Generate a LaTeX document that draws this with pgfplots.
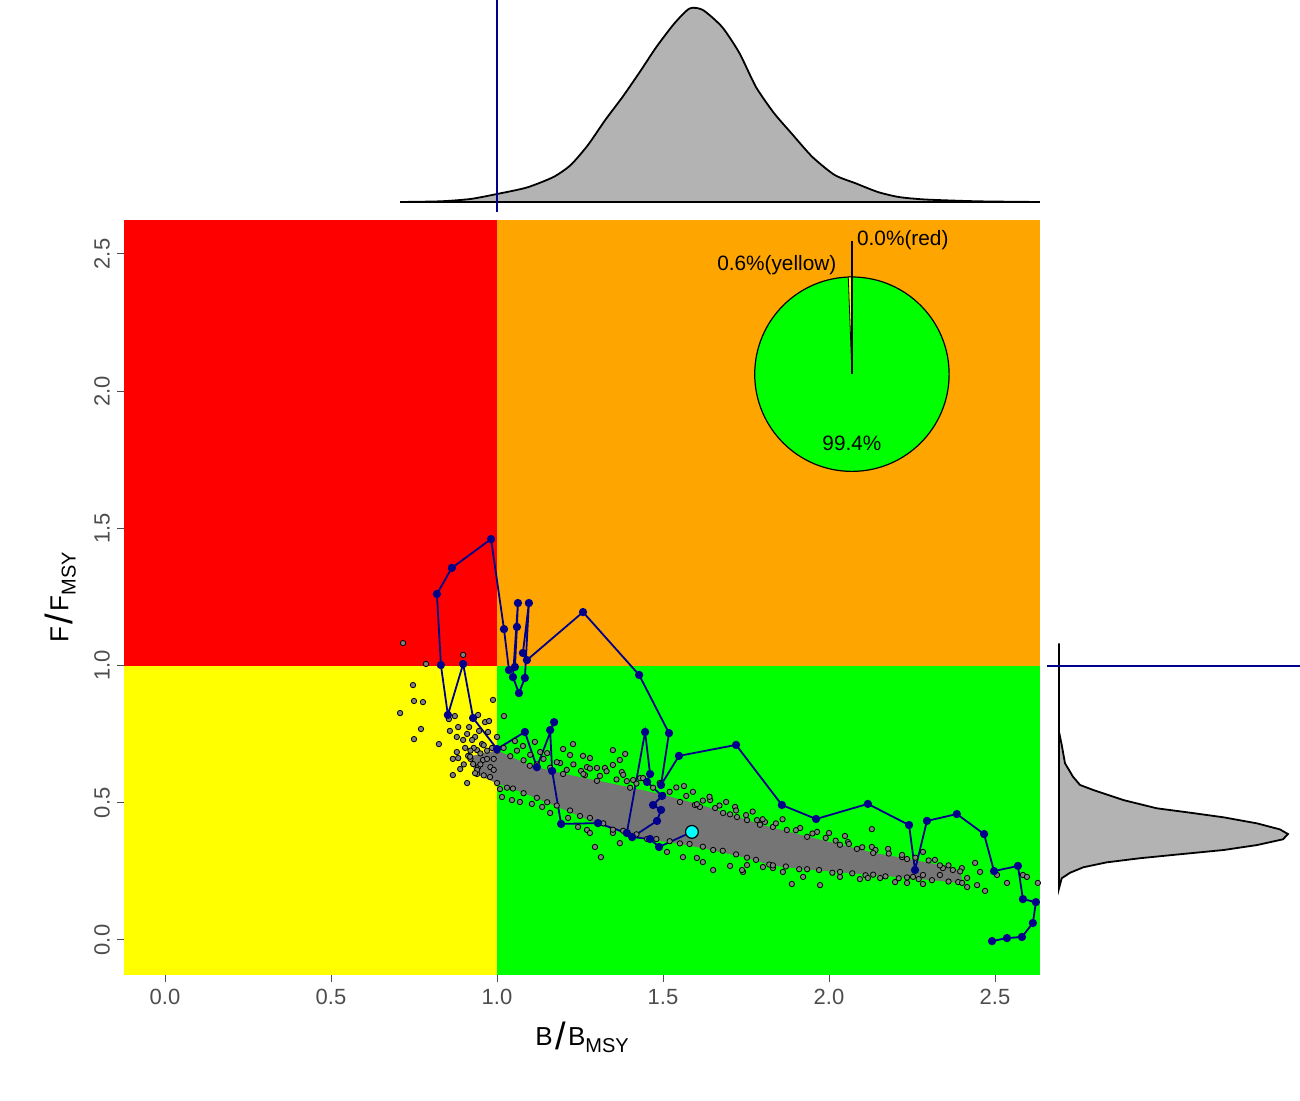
\documentclass[border=0pt]{standalone}
\usepackage{pgfplots}
\pgfplotsset{compat=1.18}
\usepackage{fontspec}
\setmainfont{Liberation Sans}
\definecolor{kred}{RGB}{255,0,0}
\definecolor{korange}{RGB}{255,165,0}
\definecolor{kyellow}{RGB}{255,255,0}
\definecolor{kgreen}{RGB}{0,255,0}
\definecolor{dens}{RGB}{179,179,179}
\definecolor{traj}{RGB}{0,0,139}
\definecolor{kcyan}{RGB}{0,255,255}
\definecolor{coregray}{RGB}{117,117,117}
\definecolor{ptgray}{RGB}{128,128,128}
\definecolor{tickgray}{RGB}{77,77,77}
\newcommand{\msylab}[1]{{\fontsize{13}{15}\selectfont #1\kern1.2pt\raisebox{-2.2pt}{\fontsize{19}{19}\selectfont/}\kern1.2pt#1}\raisebox{-3.6pt}{\fontsize{10}{12}\selectfont MSY}}

\pgfplotstableread{
B F
0.717 1.082
0.898 1.039
0.786 1.006
0.747 0.929
0.750 0.871
0.777 0.867
0.708 0.827
0.988 0.875
0.943 0.820
0.873 0.816
0.855 0.805
0.771 0.769
0.750 0.732
0.825 0.714
0.858 0.762
0.883 0.776
0.916 0.776
0.964 0.794
0.976 0.798
0.946 0.762
0.973 0.758
0.879 0.740
0.910 0.751
0.934 0.740
0.898 0.729
0.925 0.729
0.955 0.714
0.879 0.685
0.904 0.700
0.940 0.692
0.867 0.660
0.883 0.663
0.913 0.671
0.928 0.641
0.958 0.656
0.889 0.623
0.943 0.630
0.867 0.601
0.940 0.605
0.910 0.572
0.979 0.594
0.930 0.700
0.950 0.680
0.960 0.710
0.920 0.690
0.970 0.660
0.950 0.640
0.980 0.630
0.960 0.600
0.990 0.620
0.920 0.660
0.900 0.640
0.940 0.620
0.970 0.690
0.990 0.660
0.985 0.700
1.000 0.740
1.021 0.816
1.054 0.725
1.078 0.707
1.114 0.722
1.130 0.685
1.151 0.681
1.199 0.696
1.229 0.714
1.259 0.671
1.271 0.630
1.301 0.627
1.220 0.674
1.190 0.645
1.280 0.663
1.349 0.692
1.386 0.678
1.370 0.656
1.376 0.612
1.349 0.638
1.325 0.627
1.253 0.616
1.265 0.601
1.391 0.579
1.410 0.583
1.431 0.590
1.563 0.561
1.551 0.503
1.596 0.492
1.611 0.485
1.642 0.510
1.657 0.481
1.681 0.463
1.717 0.485
1.723 0.448
1.753 0.437
1.783 0.437
1.807 0.430
1.831 0.412
1.873 0.401
1.913 0.408
1.964 0.394
2.000 0.390
2.048 0.379
2.057 0.357
2.129 0.404
2.129 0.339
2.084 0.332
2.178 0.332
2.220 0.302
2.283 0.321
2.319 0.292
2.343 0.262
2.373 0.255
2.440 0.281
2.455 0.248
2.506 0.237
2.584 0.237
2.596 0.230
2.629 0.208
1.020 0.700
1.040 0.670
1.060 0.690
1.080 0.655
1.100 0.675
1.120 0.640
1.140 0.660
1.160 0.628
1.180 0.648
1.210 0.620
1.230 0.640
1.260 0.605
1.280 0.625
1.310 0.598
1.330 0.615
1.360 0.585
1.380 0.602
1.420 0.570
1.440 0.590
1.470 0.555
1.490 0.572
1.520 0.540
1.540 0.556
1.570 0.525
1.590 0.540
1.620 0.508
1.640 0.522
1.670 0.490
1.690 0.503
1.720 0.472
1.750 0.455
1.770 0.468
1.800 0.440
1.840 0.425
1.860 0.440
1.900 0.400
1.950 0.388
1.990 0.372
2.020 0.362
2.060 0.350
2.100 0.338
2.140 0.328
2.180 0.315
2.220 0.310
2.260 0.300
2.300 0.290
2.360 0.272
2.400 0.262
1.030 0.555
1.080 0.535
1.120 0.518
1.180 0.490
1.220 0.472
1.280 0.445
1.320 0.425
1.380 0.398
1.420 0.385
1.480 0.368
1.520 0.360
1.580 0.350
1.620 0.340
1.680 0.325
1.720 0.312
1.780 0.292
1.820 0.275
1.870 0.268
1.910 0.258
1.970 0.255
2.010 0.245
2.070 0.243
2.110 0.236
2.170 0.232
2.210 0.225
2.270 0.222
2.310 0.218
2.360 0.213
1.009 0.550
1.015 0.521
1.045 0.510
1.069 0.503
1.105 0.496
1.136 0.485
1.160 0.463
1.214 0.445
1.244 0.412
1.271 0.401
1.280 0.390
1.349 0.390
1.370 0.353
1.295 0.339
1.313 0.302
1.512 0.321
1.560 0.302
1.602 0.299
1.620 0.284
1.651 0.255
1.702 0.270
1.741 0.248
1.753 0.273
1.801 0.266
1.831 0.262
1.738 0.255
1.861 0.248
1.888 0.204
1.922 0.230
1.973 0.200
2.033 0.230
2.093 0.222
2.117 0.226
2.154 0.226
2.199 0.211
2.235 0.208
2.253 0.230
2.283 0.237
2.283 0.204
2.334 0.237
2.389 0.211
2.416 0.226
2.446 0.200
2.416 0.193
2.470 0.179
2.536 0.208
}\cloudpts

\pgfplotstableread{
B F
0.919 0.668
1.000 0.690
1.099 0.635
1.199 0.605
1.301 0.580
1.401 0.555
1.500 0.528
1.602 0.495
1.702 0.458
1.792 0.420
1.934 0.376
2.033 0.347
2.133 0.317
2.235 0.295
2.334 0.272
2.395 0.250
2.401 0.208
2.235 0.228
2.133 0.238
2.033 0.248
1.934 0.258
1.831 0.272
1.753 0.300
1.651 0.328
1.551 0.352
1.452 0.368
1.349 0.402
1.250 0.452
1.151 0.502
1.048 0.552
1.000 0.572
0.934 0.608
}\core

\pgfplotstableread{
B F
2.491 -0.004
2.536 0.007
2.581 0.011
2.614 0.062
2.623 0.138
2.584 0.149
2.569 0.270
2.497 0.251
2.467 0.386
2.385 0.459
2.295 0.434
2.259 0.255
2.241 0.419
2.117 0.496
1.961 0.441
1.858 0.492
1.720 0.711
1.548 0.671
1.494 0.565
1.518 0.754
1.428 0.966
1.259 1.195
1.090 1.020
1.078 1.046
1.096 1.228
1.084 0.955
1.066 0.900
1.048 0.958
1.063 1.228
1.060 1.141
1.054 0.995
1.036 0.984
1.021 1.133
0.982 1.461
0.864 1.356
0.819 1.261
0.831 1.002
0.852 0.820
0.898 1.006
0.928 0.809
1.000 0.696
1.084 0.758
1.120 0.630
1.172 0.794
1.160 0.765
1.166 0.616
1.193 0.423
1.304 0.426
1.391 0.390
1.446 0.758
1.461 0.605
1.452 0.576
1.497 0.525
1.470 0.492
1.494 0.474
1.482 0.434
1.407 0.375
1.461 0.368
1.488 0.339
1.587 0.394
}\trajtab

\begin{document}
\begin{tikzpicture}
\path[use as bounding box] (0,0) rectangle (650pt,550pt);
% ---------------- main Kobe panel
\begin{axis}[at={(62pt,62.5pt)}, anchor=south west, scale only axis,
  width=458pt, height=377.5pt,
  xmin=-0.1235, xmax=2.6355, ymin=-0.1276, ymax=2.6239,
  axis x line*=bottom, axis y line*=left, axis line style={draw=none,-},
  tick align=outside, major tick length=3.5pt,
  tick style={color=tickgray, line width=0.5pt},
  xtick={0,0.5,1,1.5,2,2.5}, ytick={0,0.5,1,1.5,2,2.5},
  /pgf/number format/fixed, /pgf/number format/fixed zerofill,
  /pgf/number format/precision=1, /pgf/number format/assume math mode=true,
  ticklabel style={font=\fontsize{11}{13}\selectfont, text=tickgray},
  yticklabel style={rotate=90, anchor=south},
]
\fill[kred] (axis cs:-0.1235,1) rectangle (axis cs:1,2.6239);
\fill[korange] (axis cs:1,1) rectangle (axis cs:2.6355,2.6239);
\fill[kyellow] (axis cs:-0.1235,-0.1276) rectangle (axis cs:1,1);
\fill[kgreen] (axis cs:1,-0.1276) rectangle (axis cs:2.6355,1);

\addplot[fill=coregray, draw=coregray, line width=0.3pt] table[x=B,y=F] {\core};
\addplot[only marks, mark=*, mark size=1.35pt, mark options={fill=ptgray, draw=black, line width=0.4pt}] table[x=B,y=F] {\cloudpts};
\addplot[only marks, mark=*, mark size=1.35pt, mark options={fill=ptgray, draw=black, line width=0.4pt}] table[x=B,y=F] {\core};

\addplot[draw=traj, line width=0.9pt, mark=*, mark size=1.6pt, mark options={fill=traj, draw=traj}] table[x=B,y=F] {\trajtab};
\addplot[only marks, mark=*, mark size=3.2pt, mark options={fill=kcyan, draw=black, line width=0.6pt}] coordinates {(1.587,0.394)};

% pie
\coordinate (pc) at (axis cs:2.069,2.062);
\filldraw[fill=kgreen, draw=black, line width=0.6pt] (pc) circle (48.6pt);
\filldraw[fill=kyellow, draw=black, line width=0.4pt] (pc) -- ++(90:48.6pt) arc (90:92.16:48.6pt) -- cycle;
\draw[black, line width=0.8pt] (pc) -- ++(90:66.5pt);
\node[anchor=west, inner sep=0pt, xshift=2.4pt, yshift=67.1pt, font=\fontsize{10.4}{12}\selectfont] at (pc) {0.0\%(red)};
\node[anchor=east, inner sep=0pt, xshift=-7.6pt, yshift=54.6pt, font=\fontsize{10.4}{12}\selectfont] at (pc) {0.6\%(yellow)};
\node[anchor=center, inner sep=0pt, yshift=-34.4pt, font=\fontsize{10.4}{12}\selectfont] at (pc) {99.4\%};
\end{axis}

% ---------------- top marginal density of B/BMSY
\begin{axis}[at={(62pt,444pt)}, anchor=south west, scale only axis,
  width=458pt, height=106pt,
  xmin=-0.1235, xmax=2.6355, ymin=-10, ymax=202, hide axis, clip=false]
\addplot[fill=dens, draw=black, line width=0.9pt, smooth, tension=0.4] coordinates {
(0.708,0) (0.83,0.7) (0.92,3) (1.0,8) (1.09,14.5) (1.17,25) (1.222,37) (1.274,57) (1.326,82) (1.378,105) (1.43,130) (1.48,155) (1.534,178.5) (1.58,193.5) (1.62,192) (1.678,175) (1.73,149) (1.78,115) (1.834,89) (1.886,69) (1.95,45) (2.017,27) (2.08,18.7) (2.147,10) (2.21,5) (2.29,2.5) (2.447,0.7) (2.635,0)
} \closedcycle;
\addplot[draw=traj, line width=1pt] coordinates {(1,-10) (1,202)};
\end{axis}

% ---------------- right marginal density of F/FMSY
\begin{axis}[at={(523.5pt,62.5pt)}, anchor=south west, scale only axis,
  width=126.5pt, height=377.5pt,
  xmin=-12, xmax=241, ymin=-0.1276, ymax=2.6239, hide axis, clip=false]
\addplot[fill=dens, draw=black, line width=0.9pt] coordinates {
(0,1.081) (0,0.759) (2.7,0.711) (6,0.644) (14,0.595) (21,0.565) (34,0.547) (64.3,0.51) (97.7,0.48) (131,0.464) (164.7,0.447) (198,0.425) (221,0.403) (229,0.386) (224,0.367) (198,0.346) (164.7,0.328) (114,0.31) (81,0.298) (47.7,0.283) (24.3,0.265) (11,0.245) (2.7,0.225) (0,0.188) (0,1.081)
};
\addplot[draw=traj, line width=1pt] coordinates {(-12,1) (241,1)};
\end{axis}

% ---------------- axis labels
\node[anchor=base, inner sep=0pt] at (291pt,27.5pt) {\msylab{B}};
\node[anchor=base, rotate=90, inner sep=0pt] at (34.2pt,251.25pt) {\msylab{F}};
\end{tikzpicture}
\end{document}
